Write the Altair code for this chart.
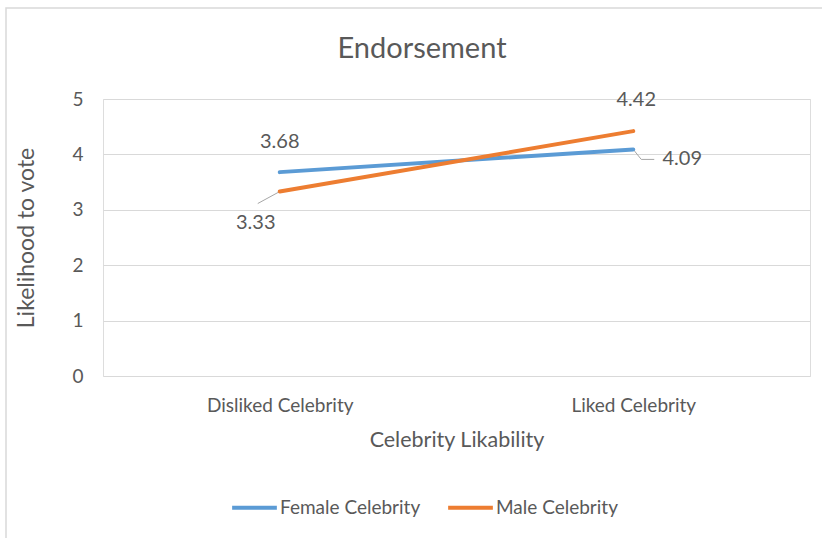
import altair as alt
import pandas as pd

categories = ["Disliked Celebrity", "Liked Celebrity"]
series = ["Female Celebrity", "Male Celebrity"]
female = [3.68, 4.09]
male = [3.33, 4.42]
colors = ["#5B9BD5", "#ED7D31"]
chart_title = "Endorsement"

rows = []
for s, vals in zip(series, [female, male]):
    for c, v in zip(categories, vals):
        rows.append({"Likability": c, "Series": s, "Value": v})
df = pd.DataFrame(rows)

FONT = "Lato, Open Sans, sans-serif"
GRAY = "#595959"

xscale = alt.Scale(domain=categories, type="point", padding=0.5)
yscale = alt.Scale(domain=[0, 5], nice=False)

x_enc = alt.X("Likability:N", sort=categories, scale=xscale,
              axis=alt.Axis(title="Celebrity Likability", labelAngle=0, labelAlign="center",
                            grid=False, ticks=False, domain=False, labelPadding=29,
                            labelFontSize=19, titleFontSize=21.5, titlePadding=14,
                            labelColor=GRAY, titleColor=GRAY, titleFontWeight="normal",
                            labelFont=FONT, titleFont=FONT))
y_enc = alt.Y("Value:Q", scale=yscale,
              axis=alt.Axis(title="Likelihood to vote", values=[0, 1, 2, 3, 4, 5],
                            grid=True, gridColor="#D9D9D9", ticks=False, domain=False,
                            labelPadding=20, labelFontSize=19, titleFontSize=23,
                            titlePadding=33, labelColor=GRAY, titleColor=GRAY,
                            titleFontWeight="normal", labelFont=FONT, titleFont=FONT))

base = alt.Chart(df).encode(x=x_enc, y=y_enc)

lines = base.mark_line(strokeWidth=4, strokeCap="round").encode(
    color=alt.Color("Series:N", scale=alt.Scale(domain=series, range=colors),
                    legend=alt.Legend(title=None, orient="none", direction="horizontal",
                                      legendX=127, legendY=384,
                                      symbolType="stroke", symbolStrokeWidth=4,
                                      symbolSize=2000, columnPadding=19,
                                      labelFontSize=19, labelColor=GRAY, labelFont=FONT,
                                      labelOffset=1))
)

def lab(s, c, dx, dy):
    return base.transform_filter(
        (alt.datum.Series == s) & (alt.datum.Likability == c)
    ).mark_text(dx=dx, dy=dy, fontSize=20, color=GRAY, font=FONT).encode(
        text=alt.Text("Value:Q", format=".2f"))

labels = [
    lab(series[0], categories[0], 0, -30),
    lab(series[0], categories[1], 49, 10),
    lab(series[1], categories[0], -24, 31),
    lab(series[1], categories[1], 3, -31),
]

def leader(s, c, x1o, y1o, x2o, y2o):
    return alt.Chart(df).transform_filter(
        (alt.datum.Series == s) & (alt.datum.Likability == c)
    ).mark_rule(color="#A6A6A6", strokeWidth=1, xOffset=x1o, yOffset=y1o,
                x2Offset=x2o, y2Offset=y2o).encode(
        x=alt.X("Likability:N", sort=categories, scale=xscale),
        x2="Likability:N",
        y=alt.Y("Value:Q", scale=yscale),
        y2="Value:Q")

leaders = [
    leader(series[1], categories[0], 0, 0, -22, 12),
    leader(series[0], categories[1], 0, 0, 8, 10),
    leader(series[0], categories[1], 8, 10, 21, 10),
]

one = pd.DataFrame({"t": [chart_title]})

border = alt.Chart(one).mark_rect(fill=None, stroke="#D9D9D9", strokeWidth=1.5).encode(
    x=alt.value(6 - 103), y=alt.value(8 - 99), x2=alt.value(760), y2=alt.value(500)
)

title = alt.Chart(one).mark_text(fontSize=29, font=FONT, color=GRAY).encode(
    text="t:N", x=alt.value(422 - 103), y=alt.value(49 - 99)
)

chart = alt.layer(border, *leaders, lines, *labels, title).properties(
    width=707, height=277,
    autosize=alt.AutoSizeParams(type="none"),
    padding={"left": 103, "top": 99, "right": 12, "bottom": 162},
).configure_view(stroke=None).configure(background="white")

chart.save("out.html", embed_options={"renderer": "svg", "actions": False})
